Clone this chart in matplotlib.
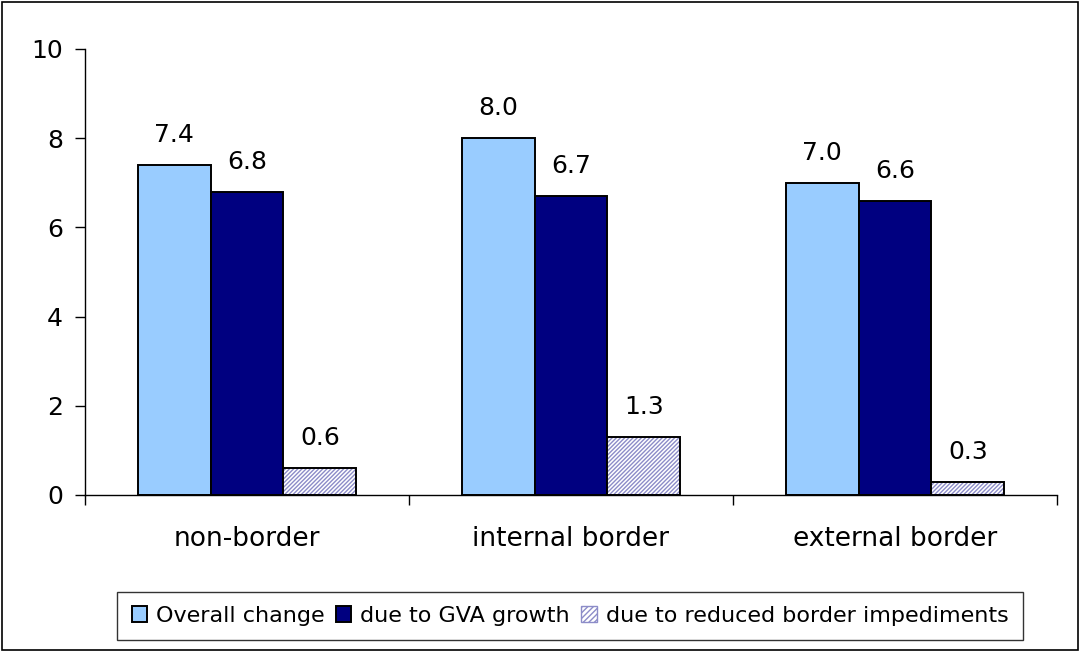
import numpy as np
import matplotlib.pyplot as plt
from matplotlib.patches import Rectangle

plt.rcParams['font.family'] = ['DejaVu Sans']

categories = ["non-border", "internal border", "external border"]
overall = [7.4, 8.0, 7.0]
gva = [6.8, 6.7, 6.6]
border = [0.6, 1.3, 0.3]
series_names = ["Overall change", "due to GVA growth", "due to reduced border impediments"]

fig = plt.figure(figsize=(10.8, 6.52), dpi=100)
ax = fig.add_axes([85 / 1080, 1 - 495 / 652, (1057 - 85) / 1080, (495 - 49) / 652])

x = np.arange(len(categories))
w = 0.225

b1 = ax.bar(x - w, overall, w, color="#99CCFF", edgecolor="black", linewidth=1.4,
            label=series_names[0], zorder=2)
b2 = ax.bar(x, gva, w, color="#000080", edgecolor="black", linewidth=1.4,
            label=series_names[1], zorder=2)
# hatched fill first, then a plain black outline on top
ax.bar(x + w, border, w, color="white", edgecolor="#8C8CC8", hatch="////////",
       linewidth=0, zorder=2)
ax.bar(x + w, border, w, color="none", edgecolor="black", linewidth=1.4, zorder=3)
b3 = Rectangle((0, 0), 1, 1, facecolor="white", edgecolor="#8C8CC8", hatch="//////")

for xs, vals in [(x - w, overall), (x, gva), (x + w, border)]:
    for xi, v in zip(xs, vals):
        ax.annotate(f"{v:.1f}", (xi, v), xytext=(0, 13), textcoords="offset points",
                    ha="center", va="bottom", fontsize=18)

ax.set_xlim(-0.5, 2.5)
ax.set_ylim(0, 10)
ax.set_yticks([0, 2, 4, 6, 8, 10])
ax.tick_params(axis="y", direction="out", length=7, width=1, labelsize=18, pad=9)
ax.set_xticks([-0.5, 0.5, 1.5, 2.5])
ax.set_xticklabels([])
ax.tick_params(axis="x", direction="out", length=7, width=1)
ax.set_xticks(x, minor=True)
ax.set_xticklabels(categories, minor=True, fontsize=19)
ax.tick_params(axis="x", which="minor", length=0, pad=22)

for s in ["top", "right"]:
    ax.spines[s].set_visible(False)
for s in ["left", "bottom"]:
    ax.spines[s].set_linewidth(1)
    ax.spines[s].set_color("black")

leg = fig.legend([b1, b2, b3], series_names, loc="center", ncol=3,
                 bbox_to_anchor=(570 / 1080, 1 - 616 / 652), fontsize=16,
                 frameon=True, fancybox=False, edgecolor="black",
                 handlelength=0.7, handleheight=0.7, handletextpad=0.4,
                 columnspacing=0.5, borderpad=0.65, borderaxespad=0)
leg.get_frame().set_linewidth(1)

fig.patches.append(Rectangle((2 / 1080, 2 / 652), 1076 / 1080, 648 / 652,
                             transform=fig.transFigure, fill=False,
                             edgecolor="black", linewidth=1.2))

fig.savefig("out.png", dpi=100)
